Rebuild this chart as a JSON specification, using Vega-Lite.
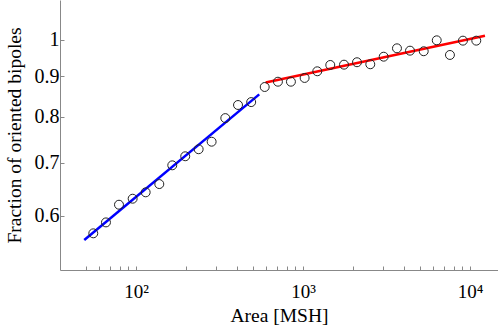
{
  "$schema": "https://vega.github.io/schema/vega-lite/v6.json",
  "width": 438,
  "height": 270,
  "autosize": {"type": "none"},
  "padding": {"left": 60, "top": 0, "right": 0, "bottom": 58},
  "background": "white",
  "config": {
    "view": {"stroke": null},
    "font": "Liberation Serif",
    "axis": {
      "grid": false,
      "domainColor": "#888888",
      "domainWidth": 1,
      "tickColor": "#888888",
      "tickWidth": 1,
      "tickSize": -4,
      "labelColor": "black",
      "titleFont": "Liberation Serif",
      "titleFontSize": 19.5,
      "titleFontWeight": "normal",
      "titleColor": "black"
    }
  },
  "datasets": {
    "points": [
      {"area": 55.5, "fraction": 0.5705},
      {"area": 66.1, "fraction": 0.5889},
      {"area": 79.1, "fraction": 0.6199},
      {"area": 95.5, "fraction": 0.6308},
      {"area": 114.3, "fraction": 0.6426},
      {"area": 137.9, "fraction": 0.6582},
      {"area": 164.9, "fraction": 0.695},
      {"area": 197.2, "fraction": 0.7135},
      {"area": 237.3, "fraction": 0.7282},
      {"area": 283.8, "fraction": 0.7443},
      {"area": 342.6, "fraction": 0.7971},
      {"area": 408.3, "fraction": 0.828},
      {"area": 489.6, "fraction": 0.835},
      {"area": 590, "fraction": 0.8724},
      {"area": 708, "fraction": 0.8859},
      {"area": 847, "fraction": 0.8859},
      {"area": 1023, "fraction": 0.8956},
      {"area": 1218, "fraction": 0.9131},
      {"area": 1457, "fraction": 0.93},
      {"area": 1761, "fraction": 0.9308},
      {"area": 2106, "fraction": 0.9374},
      {"area": 2530, "fraction": 0.9319},
      {"area": 3043, "fraction": 0.9526},
      {"area": 3655, "fraction": 0.9761},
      {"area": 4375, "fraction": 0.9694},
      {"area": 5286, "fraction": 0.9678},
      {"area": 6325, "fraction": 0.999},
      {"area": 7588, "fraction": 0.9574},
      {"area": 9077, "fraction": 0.998},
      {"area": 10912, "fraction": 0.998}
    ],
    "fits": [
      {"segment": "small", "area": 49.0, "fraction": 0.5595},
      {"segment": "small", "area": 547, "fraction": 0.854},
      {"segment": "large", "area": 598, "fraction": 0.8837},
      {"segment": "large", "area": 12300, "fraction": 1.0125}
    ]
  },
  "layer": [
    {
      "data": {"name": "fits"},
      "mark": {"type": "line", "strokeWidth": 2.5, "clip": true},
      "encoding": {
        "x": {
          "field": "area",
          "type": "quantitative",
          "scale": {"type": "log", "domain": [35.07, 14720], "nice": false},
          "axis": {
            "title": "Area [MSH]",
            "values": [50, 60, 70, 80, 90, 100, 200, 300, 400, 500, 600, 700, 800, 900, 1000, 2000, 3000, 4000, 5000, 6000, 7000, 8000, 9000, 10000],
            "labelExpr": "datum.value == 100 ? '10²' : datum.value == 1000 ? '10³' : datum.value == 10000 ? '10⁴' : ''",
            "labelFont": "Liberation Serif",
            "labelFontSize": 19,
            "labelPadding": 16,
            "labelFlush": false,
            "labelOverlap": false,
            "titlePadding": 5
          }
        },
        "y": {
          "field": "fraction",
          "type": "quantitative",
          "scale": {"type": "log", "domain": [0.5129, 1.123], "nice": false},
          "axis": {
            "title": "Fraction of oriented bipoles",
            "values": [0.6, 0.7, 0.8, 0.9, 1],
            "format": "~g",
            "labelFont": "Liberation Serif",
            "labelFontSize": 20,
            "labelPadding": 5,
            "labelFlush": false,
            "labelOverlap": false,
            "titlePadding": 10
          }
        },
        "color": {
          "field": "segment",
          "type": "nominal",
          "scale": {"domain": ["small", "large"], "range": ["#0000ff", "#ff0000"]},
          "legend": null
        }
      }
    },
    {
      "data": {"name": "points"},
      "mark": {"type": "point", "shape": "circle", "filled": false, "stroke": "#222222", "strokeWidth": 1, "size": 80, "opacity": 1},
      "encoding": {
        "x": {"field": "area", "type": "quantitative"},
        "y": {"field": "fraction", "type": "quantitative"}
      }
    }
  ]
}
